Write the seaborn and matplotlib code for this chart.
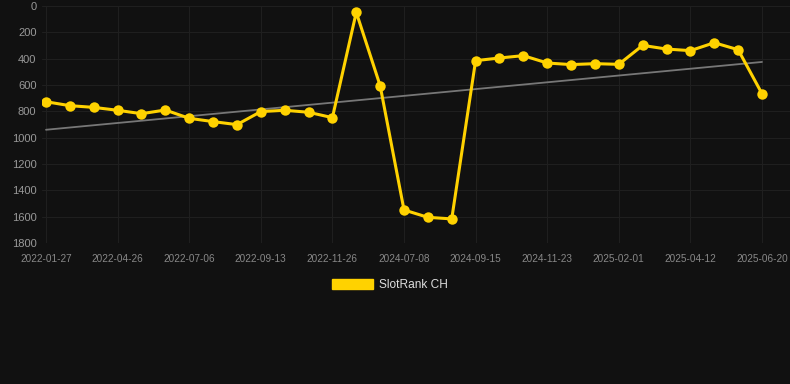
import numpy as np
import pandas as pd
import seaborn as sns
import matplotlib.pyplot as plt
from matplotlib.patches import Patch

# data
dates = ['2022-01-27', '2022-02-26', '2022-03-28', '2022-04-26', '2022-05-20', '2022-06-12',
         '2022-07-06', '2022-07-29', '2022-08-21', '2022-09-13', '2022-10-08', '2022-11-01',
         '2022-11-26', '2024-04-20', '2024-06-14', '2024-07-08', '2024-07-31', '2024-08-23',
         '2024-09-15', '2024-10-12', '2024-10-28', '2024-11-23', '2024-12-16', '2025-01-08',
         '2025-02-01', '2025-02-24', '2025-03-19', '2025-04-12', '2025-05-05', '2025-05-28',
         '2025-06-20']
ranks = [727, 757, 770, 792, 818, 790, 853, 878, 901, 802, 792, 807, 848, 48, 605,
         1549, 1605, 1617, 415, 395, 377, 433, 445, 438, 443, 299, 327, 339, 279, 332, 666]
tick_labels = ['2022-01-27', '2022-04-26', '2022-07-06', '2022-09-13', '2022-11-26',
               '2024-07-08', '2024-09-15', '2024-11-23', '2025-02-01', '2025-04-12', '2025-06-20']
trend_ends = [940, 425]
y_ticks = [0, 200, 400, 600, 800, 1000, 1200, 1400, 1600, 1800]

bg = '#111111'
gold = '#FFD200'

sns.set_style('dark')
plt.rcParams['font.family'] = ['Liberation Sans', 'DejaVu Sans']

df = pd.DataFrame({'pos': np.arange(len(dates)), 'date': dates, 'rank': ranks})
trend = pd.DataFrame({'pos': [0, len(dates) - 1], 'rank': trend_ends})

fig = plt.figure(figsize=(7.9, 3.84), dpi=100, facecolor=bg)
ax = fig.add_axes([42 / 790, 141 / 384, 748 / 790, 237 / 384])
ax.set_facecolor(bg)

# trend line first, rank line on top
sns.lineplot(data=trend, x='pos', y='rank', ax=ax, color='#777777', linewidth=1.3)
sns.lineplot(data=df, x='pos', y='rank', ax=ax, color=gold, linewidth=2.2,
             marker='o', markersize=7.5, markeredgewidth=0, markeredgecolor=gold)

tick_pos = [dates.index(d) for d in tick_labels]
ax.set_xticks(tick_pos)
ax.set_xticklabels(tick_labels, fontsize=7.2, color='#888888')
ax.set_yticks(y_ticks)
ax.set_yticklabels([str(v) for v in y_ticks], fontsize=8, color='#999999')

step = 716 / 30
ax.set_xlim(-4 / step, 30 + 28 / step)
ax.set_ylim(1800, 0)

ax.grid(True, color='#1f1f1f', linewidth=0.8)
ax.tick_params(axis='x', length=5, color='#1f1f1f', pad=3)
ax.tick_params(axis='y', length=0, pad=4)
for s in ax.spines.values():
    s.set_visible(False)
ax.set_xlabel('')
ax.set_ylabel('')

handle = Patch(facecolor=gold, edgecolor=gold)
fig.legend([handle], ['SlotRank CH'], loc='center', bbox_to_anchor=(390 / 790, 1 - 285 / 384),
           frameon=False, fontsize=8.6, labelcolor='#dddddd', handlelength=3.4, handleheight=1.0,
           handletextpad=0.5)

fig.savefig('out.png', dpi=100, facecolor=bg)
